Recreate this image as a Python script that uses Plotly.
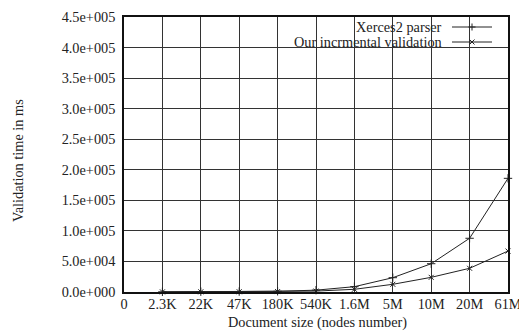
import plotly.graph_objects as go

categories = ["0", "2.3K", "22K", "47K", "180K", "540K", "1.6M", "5M", "10M", "20M", "61M"]
point_categories = categories[1:]
xerces = [300, 500, 700, 1200, 3000, 8700, 23400, 46300, 87900, 186000]
incremental = [200, 300, 400, 700, 1500, 4400, 12600, 24000, 38800, 67000]
ytick_vals = [0, 50000, 100000, 150000, 200000, 250000, 300000, 350000, 400000, 450000]
ytick_text = ["0.0e+000", "5.0e+004", "1.0e+005", "1.5e+005", "2.0e+005", "2.5e+005",
              "3.0e+005", "3.5e+005", "4.0e+005", "4.5e+005"]
series_names = ["Xerces2 parser", "Our incrmental validation"]

FONT = "'Liberation Serif', 'Times New Roman', Times, serif"
FS = 14.3
LINE = "#222"
TXT = "#222"

# page body has an 8px margin; figure is sized to fit the window
W, H = 519, 324
PLOT_L, PLOT_R, PLOT_T, PLOT_B = 124, 508, 17, 292  # screen px of plot area


def px(sx):
    return (sx - PLOT_L) / (PLOT_R - PLOT_L)


def py(sy):
    return (PLOT_B - sy) / (PLOT_B - PLOT_T)


fig = go.Figure()
xi = [categories.index(c) for c in point_categories]
fig.add_trace(go.Scatter(x=xi, y=xerces, mode="lines+markers", name=series_names[0],
                         line=dict(color=LINE, width=1),
                         marker=dict(symbol="cross-thin", size=6, line=dict(color=LINE, width=1)),
                         showlegend=False, cliponaxis=False))
fig.add_trace(go.Scatter(x=xi, y=incremental, mode="lines+markers", name=series_names[1],
                         line=dict(color=LINE, width=1),
                         marker=dict(symbol="x-thin", size=5, line=dict(color=LINE, width=1)),
                         showlegend=False, cliponaxis=False))

# legend (gnuplot style: text right-aligned, sample to the right) on an overlay axis in screen px
legend_y = [27, 42]
symbols = ["cross-thin", "x-thin"]
for name, ly, sym in zip(series_names, legend_y, symbols):
    fig.add_trace(go.Scatter(x=[452, 472, 492], y=[ly, ly, ly], mode="lines", xaxis="x2", yaxis="y2",
                             line=dict(color=LINE, width=1), showlegend=False, hoverinfo="skip"))
    fig.add_trace(go.Scatter(x=[472], y=[ly], mode="markers", xaxis="x2", yaxis="y2",
                             marker=dict(symbol=sym, size=5, line=dict(color=LINE, width=1)),
                             showlegend=False, hoverinfo="skip"))
    fig.add_annotation(x=px(444), y=py(ly), xref="paper", yref="paper", text=name, showarrow=False,
                       xanchor="right", yanchor="middle", font=dict(family=FONT, size=FS, color=TXT))

# axis titles
fig.add_annotation(x=px(317), y=py(322), xref="paper", yref="paper", text="Document size (nodes number)",
                   showarrow=False, xanchor="center", yanchor="middle",
                   font=dict(family=FONT, size=FS, color=TXT))
fig.add_annotation(x=px(18), y=py(161), xref="paper", yref="paper", text="Validation time in ms",
                   showarrow=False, textangle=-90, xanchor="center", yanchor="middle",
                   font=dict(family=FONT, size=FS, color=TXT))

fig.update_layout(
    width=W, height=H,
    margin=dict(l=PLOT_L - 8, r=W - (PLOT_R - 8), t=PLOT_T - 8, b=H - (PLOT_B - 8), autoexpand=False),
    paper_bgcolor="white", plot_bgcolor="white",
    font=dict(family=FONT, size=FS, color=TXT),
    xaxis=dict(range=[0, 10], tickvals=list(range(len(categories))), ticktext=categories,
               showgrid=True, gridcolor="#333", gridwidth=1, zeroline=False, automargin=False,
               showline=True, linecolor="#111", linewidth=1.5, mirror=True,
               ticks="", ticklabelstandoff=-2,
               tickfont=dict(family=FONT, size=FS, color=TXT)),
    yaxis=dict(range=[0, 450000], tickvals=ytick_vals, ticktext=ytick_text,
               showgrid=True, gridcolor="#333", gridwidth=1, zeroline=False, automargin=False,
               showline=True, linecolor="#111", linewidth=1.5, mirror=True,
               ticks="", ticklabelstandoff=4,
               tickfont=dict(family=FONT, size=FS, color=TXT)),
    xaxis2=dict(range=[PLOT_L, PLOT_R], overlaying="x", visible=False, fixedrange=True, automargin=False),
    yaxis2=dict(range=[PLOT_B, PLOT_T], overlaying="y", visible=False, fixedrange=True, automargin=False),
)

fig.write_html("out.html")
